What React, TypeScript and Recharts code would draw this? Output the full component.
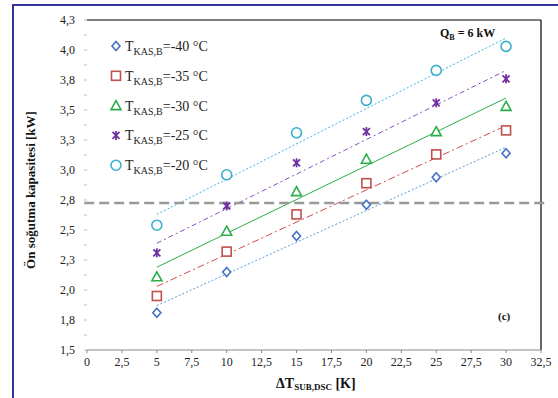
import React from "react";
import { ComposedChart, XAxis, YAxis, Scatter, Line, ReferenceLine } from "recharts";

const xValues = [5, 10, 15, 20, 25, 30];
const kas40 = [1.81, 2.15, 2.45, 2.71, 2.94, 3.14];
const kas35 = [1.95, 2.32, 2.63, 2.89, 3.13, 3.33];
const kas30 = [2.11, 2.49, 2.82, 3.09, 3.32, 3.53];
const kas25 = [2.31, 2.7, 3.06, 3.32, 3.56, 3.76];
const kas20 = [2.54, 2.96, 3.31, 3.58, 3.83, 4.03];

// trend lines read at x = 5 and x = 30
const trendX = [5, 30];
const trend40 = [1.87, 3.19];
const trend35 = [2.03, 3.37];
const trend30 = [2.19, 3.6];
const trend25 = [2.39, 3.83];
const trend20 = [2.63, 4.1];

// major + minor ticks; minors carry an empty label
const yTicks = [
  1.5, 1.625, 1.75, 1.875, 2, 2.125, 2.25, 2.375, 2.5, 2.625, 2.75, 2.875, 3, 3.125, 3.25, 3.375, 3.5, 3.625, 3.75,
  3.875, 4, 4.125, 4.25,
];
const yTickLabels = [
  "1,5", "", "1,8", "", "2,0", "", "2,3", "", "2,5", "", "2,8", "", "3,0", "", "3,3", "", "3,5", "", "3,8", "", "4,0", "",
  "4,3",
];
const xTicks = [0, 2.5, 5, 7.5, 10, 12.5, 15, 17.5, 20, 22.5, 25, 27.5, 30, 32.5];
const xTickLabels = ["0", "2,5", "5", "7,5", "10", "12,5", "15", "17,5", "20", "22,5", "25", "27,5", "30", "32,5"];

const limitValue = 2.725;
const legendLabels = ["=-40 °C", "=-35 °C", "=-30 °C", "=-25 °C", "=-20 °C"];

const FONT = "Liberation Serif, Times New Roman, serif";

const toPoints = (ys: number[], xs: number[] = xValues) => xs.map((x, i) => ({ x, y: ys[i] }));

type Kind = "diamond" | "square" | "triangle" | "star" | "circle";

const Marker = ({ kind, cx, cy, color }: { kind: Kind; cx: number; cy: number; color: string }) => {
  if (kind === "diamond")
    return (
      <path
        d={`M${cx},${cy - 4.5}L${cx + 4},${cy}L${cx},${cy + 4.5}L${cx - 4},${cy}Z`}
        fill="#fff"
        stroke={color}
        strokeWidth={1.6}
      />
    );
  if (kind === "square")
    return <rect x={cx - 4.5} y={cy - 4.5} width={9} height={9} fill="#fff" stroke={color} strokeWidth={1.6} />;
  if (kind === "triangle")
    return (
      <path
        d={`M${cx},${cy - 5}L${cx + 5},${cy + 4}L${cx - 5},${cy + 4}Z`}
        fill="#fff"
        stroke={color}
        strokeWidth={1.6}
      />
    );
  if (kind === "star")
    return (
      <g stroke={color} strokeWidth={1.8}>
        <line x1={cx - 3.5} y1={cy - 3.5} x2={cx + 3.5} y2={cy + 3.5} />
        <line x1={cx - 3.5} y1={cy + 3.5} x2={cx + 3.5} y2={cy - 3.5} />
        <line x1={cx} y1={cy - 4.5} x2={cx} y2={cy + 4.5} />
      </g>
    );
  return <circle cx={cx} cy={cy} r={5} fill="#fff" stroke={color} strokeWidth={1.6} />;
};

const series: { data: number[]; trend: number[]; kind: Kind; color: string; lineColor: string; dash?: string }[] = [
  { data: kas40, trend: trend40, kind: "diamond", color: "#4472C4", lineColor: "#5B9BD5", dash: "2 2" },
  { data: kas35, trend: trend35, kind: "square", color: "#C0504D", lineColor: "#D04A48", dash: "7 3 2 3" },
  { data: kas30, trend: trend30, kind: "triangle", color: "#2BAE4A", lineColor: "#2BAE4A" },
  { data: kas25, trend: trend25, kind: "star", color: "#7030A0", lineColor: "#8A4FC0", dash: "5 3 2 3" },
  { data: kas20, trend: trend20, kind: "circle", color: "#3BAFCB", lineColor: "#3BB4DA", dash: "2 2" },
];

const App: React.FC = () => {
  return (
    <div style={{ position: "absolute", left: 0, top: 0, width: 558, height: 398, background: "#fff", fontFamily: FONT }}>
      <div
        style={{
          position: "absolute",
          left: 12,
          top: 4,
          width: 546,
          height: 394,
          borderLeft: "2px solid #35359a",
          borderTop: "2px solid #35359a",
        }}
      />
      <ComposedChart width={558} height={398} margin={{ top: 20, right: 17, left: 27, bottom: 18 }}>
        <XAxis
          type="number"
          dataKey="x"
          domain={[0, 32.5]}
          ticks={xTicks}
          tickFormatter={(v: number) => xTickLabels[xTicks.indexOf(v)] ?? String(v)}
          tick={{ fill: "#222", fontSize: 12, fontFamily: FONT }}
          tickSize={3}
          tickMargin={4}
          axisLine={{ stroke: "#888" }}
          tickLine={{ stroke: "#888" }}
          height={30}
          allowDataOverflow
        />
        <YAxis
          type="number"
          dataKey="y"
          domain={[1.5, 4.25]}
          ticks={yTicks}
          interval={0}
          tickFormatter={(v: number) => yTickLabels[yTicks.indexOf(v)] ?? String(v)}
          tick={{ fill: "#222", fontSize: 12, fontFamily: FONT }}
          tickSize={3}
          tickMargin={9}
          axisLine={false}
          tickLine={{ stroke: "#bbb" }}
          width={60}
          allowDataOverflow
        />
        <ReferenceLine y={4.25} stroke="#000" strokeWidth={1.2} />
        <ReferenceLine x={32.5} stroke="#000" strokeWidth={1.2} />
        {series.map((s, i) => (
          <Line
            key={`t${i}`}
            data={toPoints(s.trend, trendX)}
            dataKey="y"
            type="linear"
            stroke={s.lineColor}
            strokeWidth={1}
            strokeDasharray={s.dash}
            dot={false}
            activeDot={false}
            isAnimationActive={false}
          />
        ))}
        <ReferenceLine
          segment={[
            { x: -0.2, y: limitValue },
            { x: 33, y: limitValue },
          ]}
          stroke="#999"
          strokeWidth={2.5}
          strokeDasharray="10 5"
          ifOverflow="visible"
        />
        {series.map((s, i) => (
          <Scatter
            key={`s${i}`}
            data={toPoints(s.data)}
            isAnimationActive={false}
            shape={(p: any) => <Marker kind={s.kind} cx={p.cx} cy={p.cy} color={s.color} />}
          />
        ))}
      </ComposedChart>

      <svg width={558} height={398} style={{ position: "absolute", left: 0, top: 0, pointerEvents: "none" }}>
        <g fontFamily={FONT}>
          {series.map((s, i) => {
            const y = 46 + i * 29.8;
            return (
              <g key={i}>
                <Marker kind={s.kind} cx={116} cy={y} color={s.color} />
                <text x={125} y={y + 5} fontSize={14} fill="#222">
                  T
                  <tspan fontSize={10} dy={4}>
                    KAS,B
                  </tspan>
                  <tspan fontSize={14} dy={-4}>
                    {legendLabels[i]}
                  </tspan>
                </text>
              </g>
            );
          })}
          <text x={440} y={37} fontSize={12} fontWeight="bold" fill="#111">
            Q
            <tspan fontSize={8} dy={3}>
              B
            </tspan>
            <tspan fontSize={12} dy={-3}>
              {" = 6 kW"}
            </tspan>
          </text>
          <text x={498} y={320} fontSize={11} fontWeight="bold" fill="#111">
            (c)
          </text>
          <text x={276} y={388} fontSize={14} fontWeight="bold" fill="#111">
            ΔT
            <tspan fontSize={9} dy={2}>
              SUB,DSC
            </tspan>
            <tspan fontSize={14} dy={-2}>
              {" [K]"}
            </tspan>
          </text>
          <text
            x={0}
            y={0}
            transform="translate(35,190) rotate(-90)"
            textAnchor="middle"
            fontSize={13}
            fontWeight="bold"
            fill="#111"
          >
            Ön soğutma kapasitesi [kW]
          </text>
        </g>
      </svg>
    </div>
  );
};

export default App;
